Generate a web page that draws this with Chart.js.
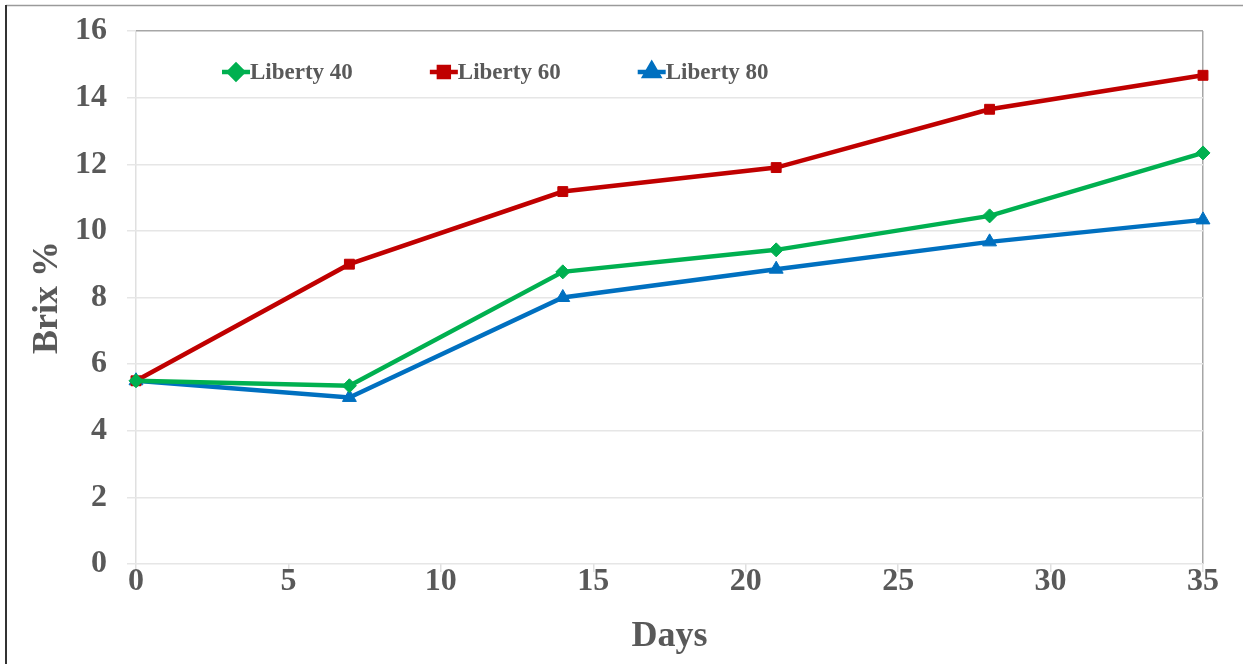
<!DOCTYPE html>
<html lang="en">
<head>
    <meta charset="UTF-8">
    <title>Brix % over days</title>
    <script src="https://cdn.jsdelivr.net/npm/chart.js"></script>
    <style>
        html, body { margin: 0; padding: 0; background: #ffffff; }
        #wrap { position: relative; width: 1243px; height: 664px; }
    </style>
</head>
<body>
<div id="wrap">
    <canvas id="brixChart" width="1243" height="664"></canvas>
</div>
<script>
    // values
    const days = [0, 7, 14, 21, 28, 35];
    const liberty40 = [5.5, 5.35, 8.77, 9.43, 10.45, 12.34];
    const liberty60 = [5.5, 9.0, 11.18, 11.9, 13.65, 14.67];
    const liberty80 = [5.5, 5.0, 8.0, 8.85, 9.67, 10.33];
    const yTicks = [0, 2, 4, 6, 8, 10, 12, 14, 16];
    const xTicks = [0, 5, 10, 15, 20, 25, 30, 35];

    const textColor = '#595959';
    const serif = "'Liberation Serif', 'Times New Roman', serif";

    function pts(ys) {
        return days.map((d, i) => ({ x: d, y: ys[i] }));
    }

    function series(label, ys, color, style, radius) {
        return {
            label: label,
            data: pts(ys),
            borderColor: color,
            backgroundColor: color,
            borderWidth: 4.5,
            pointStyle: style,
            pointRadius: radius,
            pointHoverRadius: radius,
            pointBorderWidth: 1,
            tension: 0,
            clip: false
        };
    }

    // outer frame of the figure
    const framePlugin = {
        id: 'frame',
        beforeDraw(chart) {
            const ctx = chart.ctx;
            ctx.save();
            ctx.fillStyle = '#ffffff';
            ctx.fillRect(0, 0, chart.width, chart.height);
            ctx.strokeStyle = '#9a9a9a';
            ctx.lineWidth = 1.5;
            ctx.beginPath();
            ctx.moveTo(6, 5.5);
            ctx.lineTo(chart.width, 5.5);
            ctx.stroke();
            ctx.strokeStyle = '#333333';
            ctx.lineWidth = 2;
            ctx.beginPath();
            ctx.moveTo(6, 5);
            ctx.lineTo(6, chart.height);
            ctx.stroke();
            ctx.restore();
        }
    };

    // legend drawn inside the plot, line + marker like the original
    const insideLegend = {
        id: 'insideLegend',
        afterDraw(chart) {
            const ctx = chart.ctx;
            const y = 72;
            let x = 222;
            ctx.save();
            ctx.font = 'bold 23px ' + serif;
            ctx.textBaseline = 'middle';
            chart.data.datasets.forEach(ds => {
                ctx.strokeStyle = ds.borderColor;
                ctx.lineWidth = 4.5;
                ctx.beginPath();
                ctx.moveTo(x, y);
                ctx.lineTo(x + 28, y);
                ctx.stroke();
                Chart.helpers.drawPoint(ctx, {
                    pointStyle: ds.pointStyle,
                    radius: ds.pointRadius,
                    rotation: 0,
                    borderWidth: 1
                }, x + 14, y);
                ctx.fillStyle = ds.borderColor;
                ctx.fill();
                ctx.fillStyle = textColor;
                ctx.fillText(ds.label, x + 28, y + 1);
                x += 28 + ctx.measureText(ds.label).width + 77;
            });
            ctx.restore();
        }
    };

    const ctx = document.getElementById('brixChart').getContext('2d');
    const brixChart = new Chart(ctx, {
        type: 'line',
        data: {
            datasets: [
                series('Liberty 40', liberty40, '#00b050', 'rectRot', 7),
                series('Liberty 60', liberty60, '#c00000', 'rect', 7),
                series('Liberty 80', liberty80, '#0070c0', 'triangle', 8)
            ]
        },
        plugins: [framePlugin, insideLegend],
        options: {
            responsive: false,
            animation: false,
            layout: { padding: { left: 8, top: 31, right: 40, bottom: 0 } },
            plugins: {
                legend: { display: false },
                tooltip: { enabled: false }
            },
            scales: {
                x: {
                    type: 'linear',
                    min: 0,
                    max: 35,
                    afterBuildTicks(scale) {
                        scale.ticks = xTicks.map(v => ({ value: v }));
                    },
                    afterFit(scale) { scale.height = 100; },
                    grid: {
                        color: c => c.tick && c.tick.value === 35 ? '#a6a6a6' : (c.tick && c.tick.value === 0 ? '#e0e0e0' : 'rgba(0,0,0,0)'),
                        tickColor: '#e0e0e0',
                        tickLength: 8,
                        lineWidth: 1.5
                    },
                    border: { display: false },
                    ticks: {
                        color: textColor,
                        font: { family: serif, size: 32, weight: 'bold', lineHeight: 1 },
                        padding: -6
                    },
                    title: {
                        display: true,
                        text: 'Days',
                        color: textColor,
                        font: { family: serif, size: 36, weight: 'bold' },
                        padding: { top: 0, bottom: 6 }
                    }
                },
                y: {
                    min: 0,
                    max: 16,
                    afterBuildTicks(scale) {
                        scale.ticks = yTicks.map(v => ({ value: v }));
                    },
                    afterFit(scale) {
                        scale.width = 128;
                        scale.paddingTop = 0;
                        scale.paddingBottom = 0;
                    },
                    grid: {
                        color: c => c.tick && c.tick.value === 16 ? '#a6a6a6' : '#e6e6e6',
                        tickColor: '#e6e6e6',
                        tickLength: 9,
                        lineWidth: 1.5
                    },
                    border: { display: false },
                    ticks: {
                        color: textColor,
                        font: { family: serif, size: 32, weight: 'bold' },
                        padding: 20
                    },
                    title: {
                        display: true,
                        text: 'Brix %',
                        color: textColor,
                        font: { family: serif, size: 36, weight: 'bold' },
                        padding: { top: 18, bottom: 0 }
                    }
                }
            }
        }
    });
</script>
</body>
</html>
